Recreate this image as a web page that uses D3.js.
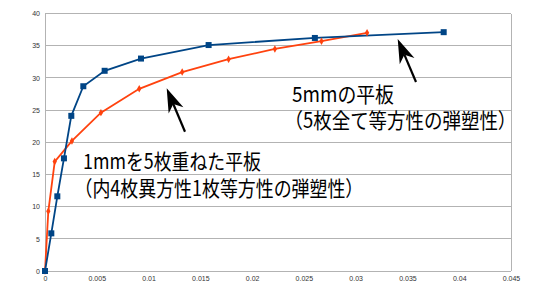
<!DOCTYPE html>
<html><head><meta charset="utf-8">
<script src="https://cdn.jsdelivr.net/npm/d3@7"></script>
<style>body{margin:0;background:#fff}svg{display:block}</style>
</head><body>
<script>
const xTicks = [0,0.005,0.01,0.015,0.02,0.025,0.03,0.035,0.04,0.045];
const xTickLabels = ["0","0.005","0.01","0.015","0.02","0.025","0.03","0.035","0.04","0.045"];
const yTicks = [0,5,10,15,20,25,30,35,40];
const blueX = [0,0.00061,0.00119,0.00183,0.00254,0.0037,0.00576,0.00927,0.0158,0.02606,0.0385];
const blueY = [0,5.85,11.6,17.5,24.1,28.7,31.1,33.0,35.1,36.2,37.1];
const orangeX = [0,0.00032,0.00094,0.0026,0.0054,0.0091,0.01325,0.01773,0.0222,0.0267,0.0311];
const orangeY = [0,9.27,17.0,20.2,24.6,28.3,30.9,32.9,34.5,35.7,37.0];
const label1 = ["1mmを5枚重ねた平板","（内4枚異方性1枚等方性の弾塑性）"];
const label2 = ["5mmの平板","（5枚全て等方性の弾塑性）"];

const W=550,H=285;
const svg=d3.select("body").append("svg").attr("width",W).attr("height",H);
const x=d3.scaleLinear().domain([0,0.045]).range([45,511]);
const y=d3.scaleLinear().domain([0,40]).range([271,13.5]);

// gridlines
svg.append("g").selectAll("line").data(yTicks).join("line")
  .attr("x1",x(0)).attr("x2",x(0.045)).attr("y1",d=>y(d)).attr("y2",d=>y(d))
  .attr("stroke","#b3b3b3").attr("stroke-width",1).attr("shape-rendering","crispEdges");
svg.append("line").attr("x1",x(0)).attr("x2",x(0)).attr("y1",y(0)).attr("y2",y(40))
  .attr("stroke","#b3b3b3").attr("shape-rendering","crispEdges");
svg.append("line").attr("x1",x(0.045)).attr("x2",x(0.045)).attr("y1",y(0)).attr("y2",y(40))
  .attr("stroke","#b3b3b3").attr("shape-rendering","crispEdges");

// axes labels
const yAxis=d3.axisLeft(y).tickValues(yTicks).tickSize(0).tickPadding(5);
const gy=svg.append("g").attr("transform",`translate(${x(0)},0)`).call(yAxis);
gy.select(".domain").remove();
gy.selectAll("text").attr("font-family","Liberation Sans, Arial, sans-serif").attr("font-size",7).attr("fill","#333");
const xAxis=d3.axisBottom(x).tickValues(xTicks).tickFormat((d,i)=>xTickLabels[i]).tickSize(0).tickPadding(5);
const gx=svg.append("g").attr("transform",`translate(0,${y(0)})`).call(xAxis);
gx.select(".domain").remove();
gx.selectAll("text").attr("font-family","Liberation Sans, Arial, sans-serif").attr("font-size",7).attr("fill","#333");

const line=d3.line().x(d=>x(d[0])).y(d=>y(d[1]));
const blue=blueX.map((v,i)=>[v,blueY[i]]);
const orange=orangeX.map((v,i)=>[v,orangeY[i]]);

svg.append("path").datum(orange).attr("d",line).attr("fill","none").attr("stroke","#ff420e").attr("stroke-width",1.8);
svg.append("path").datum(blue).attr("d",line).attr("fill","none").attr("stroke","#004586").attr("stroke-width",1.8);

svg.append("g").selectAll("path").data(orange).join("path")
  .attr("transform",d=>`translate(${x(d[0])},${y(d[1])})`)
  .attr("d",d3.symbol(d3.symbolDiamond,16)).attr("fill","#ff420e");
svg.append("g").selectAll("rect").data(blue).join("rect")
  .attr("x",d=>x(d[0])-3).attr("y",d=>y(d[1])-3).attr("width",6).attr("height",6).attr("fill","#004586");

// arrows
function arrow(x1,y1,x2,y2){
  const ang=Math.atan2(y2-y1,x2-x1);
  const L=24,Wd=8,notch=17;
  const g=svg.append("g").attr("transform",`translate(${x2},${y2}) rotate(${ang*180/Math.PI})`);
  const len=Math.hypot(x2-x1,y2-y1);
  g.append("line").attr("x1",-len).attr("y1",0).attr("x2",-notch).attr("y2",0).attr("stroke","#000").attr("stroke-width",2.2);
  g.append("path").attr("d",`M0,0 L${-L},${-Wd} L${-notch},0 L${-L},${Wd} Z`).attr("fill","#000");
}
arrow(185,131.7,166.7,88.3);
arrow(416,82,397.7,39);

const tf="'Noto Sans CJK JP', 'Noto Sans', sans-serif";
function label(lines, xs, ys, lens){
  lines.forEach((s,i)=>{
    const t=svg.append("text").attr("font-family",tf).attr("font-size",21).attr("fill","#000")
      .attr("x",0).attr("y",0).text(s);
    const w=t.node().getComputedTextLength();
    t.attr("transform",`translate(${xs[i]},${ys[i]}) scale(${lens[i]/w},1)`);
  });
}
label(label1,[83,74.5],[168.5,195.5],[178,289]);
label(label2,[292,284.5],[101.5,127.5],[102,232]);
</script>
</body></html>
